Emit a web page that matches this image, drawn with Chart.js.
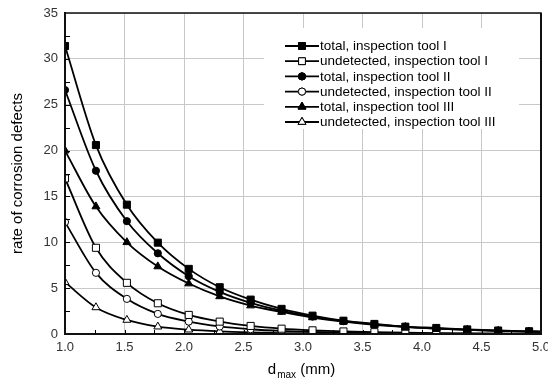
<!DOCTYPE html>
<html>
<head>
<meta charset="utf-8">
<script src="https://cdn.jsdelivr.net/npm/chart.js@4"></script>
<style>
  html, body { margin: 0; padding: 0; background: #fff; }
  #chart { display: block; }
</style>
</head>
<body>
<canvas id="chart" width="548" height="381"></canvas>
<script>
// d_max (mm) where the curves were sampled (markers up to 4.9, line runs to 5.0)
const dmax = [1.0, 1.26, 1.52, 1.78, 2.04, 2.30, 2.56, 2.82, 3.08, 3.34, 3.60, 3.86, 4.12, 4.38, 4.64, 4.90, 5.0];

const totalI    = [31.4, 20.6, 14.1, 9.96, 7.1, 5.1, 3.75, 2.74, 2.0, 1.45, 1.1, 0.8, 0.66, 0.5, 0.38, 0.3, 0.27];
const undetI    = [16.96, 9.4, 5.58, 3.35, 2.08, 1.35, 0.88, 0.58, 0.4, 0.28, 0.2, 0.14, 0.1, 0.07, 0.05, 0.04, 0.035];
const totalII   = [26.6, 17.8, 12.3, 8.8, 6.3, 4.6, 3.4, 2.55, 1.9, 1.4, 1.05, 0.78, 0.6, 0.45, 0.34, 0.26, 0.24];
const undetII   = [12.2, 6.67, 3.83, 2.19, 1.35, 0.82, 0.52, 0.33, 0.22, 0.15, 0.1, 0.07, 0.05, 0.035, 0.025, 0.02, 0.018];
const totalIII  = [20.0, 13.9, 10.0, 7.36, 5.5, 4.1, 3.1, 2.4, 1.8, 1.35, 1.0, 0.76, 0.58, 0.44, 0.34, 0.26, 0.24];
const undetIII  = [5.65, 2.9, 1.53, 0.8, 0.47, 0.28, 0.17, 0.1, 0.06, 0.04, 0.03, 0.02, 0.015, 0.01, 0.01, 0.01, 0.01];

const xTicks = [1.0, 1.5, 2.0, 2.5, 3.0, 3.5, 4.0, 4.5, 5.0];
const yTicks = [0, 5, 10, 15, 20, 25, 30, 35];

const FONT = "'Liberation Sans', Arial, sans-serif";

function serie(label, vals, style, filled, radius) {
    const last = vals.length - 1;
    return {
        label: label,
        data: dmax.map((x, i) => ({ x: x, y: vals[i] })),
        borderColor: '#000',
        borderWidth: 1.8,
        pointStyle: style,
        pointRadius: ctx => ctx.dataIndex === last ? 0 : radius,
        pointBorderWidth: 1,
        pointBorderColor: '#000',
        pointBackgroundColor: filled ? '#000' : '#fff',
        cubicInterpolationMode: 'monotone',
        clip: 0
    };
}

// legend in a white box inside the plot, line + marker samples
const boxLegend = {
    id: 'boxLegend',
    afterDatasetsDraw(chart) {
        const ctx = chart.ctx;
        ctx.save();
        ctx.fillStyle = '#fff';
        ctx.fillRect(264, 28, 255, 101);
        ctx.font = '13.5px ' + FONT;
        ctx.textBaseline = 'middle';
        chart.data.datasets.forEach((ds, i) => {
            const y = 46 + i * 15.2;
            ctx.strokeStyle = '#000';
            ctx.lineWidth = 1.8;
            ctx.beginPath();
            ctx.moveTo(285, y);
            ctx.lineTo(319, y);
            ctx.stroke();
            ctx.fillStyle = ds.pointBackgroundColor;
            ctx.lineWidth = 1;
            const r = ds.pointStyle === 'rect' ? 4.8 : (ds.pointStyle === 'triangle' ? 4.6 : 3.6);
            Chart.helpers.drawPoint(ctx, { pointStyle: ds.pointStyle, radius: r, borderWidth: 1, rotation: 0 }, 302, y);
            ctx.fill();
            ctx.stroke();
            ctx.fillStyle = '#000';
            ctx.fillText(ds.label, 320, y + 0.5);
        });
        ctx.restore();
    },
    afterDraw(chart) {
        const ctx = chart.ctx;
        const a = chart.chartArea;
        const xs = chart.scales.x, ys = chart.scales.y;
        ctx.save();
        // frame
        ctx.strokeStyle = '#111';
        ctx.lineWidth = 1.5;
        ctx.strokeRect(a.left, a.top, a.right - a.left, a.bottom - a.top);
        ctx.lineWidth = 2;
        ctx.beginPath();
        ctx.moveTo(a.left, a.top); ctx.lineTo(a.left, a.bottom); ctx.lineTo(a.right, a.bottom); ctx.lineTo(a.right, a.top);
        ctx.stroke();
        // inner ticks
        ctx.lineWidth = 1;
        ctx.strokeStyle = '#000';
        ctx.beginPath();
        for (let v = 2.5; v < 35; v += 2.5) {
            const py = Math.round(ys.getPixelForValue(v)) + 0.5;
            ctx.moveTo(a.left, py); ctx.lineTo(a.left + 5, py);
        }
        for (let v = 1.25; v < 5; v += 0.25) {
            const px = Math.round(xs.getPixelForValue(v)) + 0.5;
            ctx.moveTo(px, a.bottom); ctx.lineTo(px, a.bottom - 4);
        }
        ctx.stroke();
        // x title with subscript
        ctx.fillStyle = '#000';
        ctx.textBaseline = 'alphabetic';
        ctx.font = '15px ' + FONT;
        const w1 = ctx.measureText('d').width;
        ctx.font = '10px ' + FONT;
        const w2 = ctx.measureText('max').width;
        ctx.font = '15px ' + FONT;
        const w3 = ctx.measureText(' (mm)').width;
        let x0 = (a.left + a.right) / 2 - (w1 + w2 + w3) / 2 - 2;
        const base = 374;
        ctx.fillText('d', x0, base);
        ctx.font = '10px ' + FONT;
        ctx.fillText('max', x0 + w1 + 1, base + 4);
        ctx.font = '15px ' + FONT;
        ctx.fillText(' (mm)', x0 + w1 + w2 + 1, base);
        ctx.restore();
    }
};

const graph = document.querySelector('#chart');
new Chart(graph, {
    type: 'line',
    data: {
        datasets: [
            serie('total, inspection tool I', totalI, 'rect', true, 5),
            serie('undetected, inspection tool I', undetI, 'rect', false, 5),
            serie('total, inspection tool II', totalII, 'circle', true, 3.6),
            serie('undetected, inspection tool II', undetII, 'circle', false, 3.6),
            serie('total, inspection tool III', totalIII, 'triangle', true, 4.6),
            serie('undetected, inspection tool III', undetIII, 'triangle', false, 4.6)
        ]
    },
    options: {
        responsive: false,
        animation: false,
        layout: { padding: { top: 13, right: 7, left: 0, bottom: 0 } },
        plugins: { legend: { display: false }, tooltip: { enabled: false } },
        scales: {
            x: {
                type: 'linear',
                min: 1, max: 5,
                afterBuildTicks: s => { s.ticks = xTicks.map(v => ({ value: v })); },
                afterFit: s => { s.height = 47; s.paddingLeft = 0; s.paddingRight = 0; },
                ticks: {
                    callback: v => v.toFixed(1),
                    font: { family: FONT, size: 13 },
                    color: '#333',
                    padding: 6,
                    maxRotation: 0
                },
                grid: { color: '#c8c8c8', lineWidth: 1, drawTicks: false },
                border: { color: '#000', width: 2 }
            },
            y: {
                min: 0, max: 35,
                afterBuildTicks: s => { s.ticks = yTicks.map(v => ({ value: v })); },
                afterFit: s => { s.width = 65; s.paddingTop = 0; s.paddingBottom = 0; },
                ticks: {
                    font: { family: FONT, size: 13 },
                    color: '#333',
                    padding: 7
                },
                title: {
                    display: true,
                    text: 'rate of corrosion defects',
                    font: { family: FONT, size: 15 },
                    color: '#000',
                    padding: { top: 9, bottom: 0 }
                },
                grid: { color: '#c8c8c8', lineWidth: 1, drawTicks: false },
                border: { color: '#000', width: 2 }
            }
        }
    },
    plugins: [boxLegend]
});
</script>
</body>
</html>
